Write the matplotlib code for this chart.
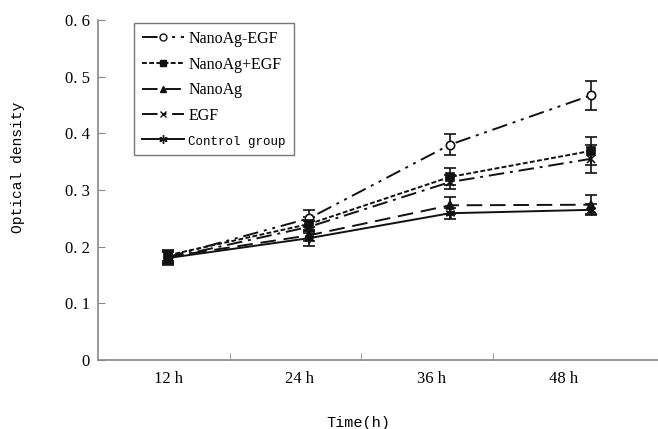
import matplotlib
matplotlib.use("Agg")
import matplotlib.pyplot as plt
from matplotlib.lines import Line2D
import numpy as np

categories = ["12 h", "24 h", "36 h", "48 h"]
series_names = ["NanoAg-EGF", "NanoAg+EGF", "NanoAg", "EGF", "Control group"]
nanoag_egf = [0.182, 0.250, 0.380, 0.467]
nanoag_plus_egf = [0.185, 0.240, 0.323, 0.369]
nanoag = [0.182, 0.220, 0.273, 0.274]
egf = [0.180, 0.235, 0.314, 0.355]
control = [0.180, 0.215, 0.259, 0.265]
err_nanoag_egf = [0.010, 0.015, 0.018, 0.025]
err_nanoag_plus_egf = [0.010, 0.012, 0.015, 0.025]
err_nanoag = [0.010, 0.010, 0.015, 0.017]
err_egf = [0.010, 0.010, 0.012, 0.025]
err_control = [0.012, 0.013, 0.010, 0.010]
yticks = [0, 0.1, 0.2, 0.3, 0.4, 0.5, 0.6]
ytick_labels = ["0", "0. 1", "0. 2", "0. 3", "0. 4", "0. 5", "0. 6"]

fig = plt.figure(figsize=(6.58, 4.29), dpi=100)
ax = fig.add_axes([98/658, 69/429, 560/658, 340/429])

x = np.arange(len(categories))
values = [nanoag_egf, nanoag_plus_egf, nanoag, egf, control]
errs = [err_nanoag_egf, err_nanoag_plus_egf, err_nanoag, err_egf, err_control]
styles = [
    dict(marker="o", mfc="white", ms=6, ls=(0, (8, 3, 1.5, 3, 1.5, 3))),
    dict(marker="s", mfc="#111", ms=6, ls=(0, (2.5, 1.2))),
    dict(marker="^", mfc="#111", ms=6, ls=(0, (8, 4))),
    dict(marker="x", mfc="#111", ms=6, ls=(0, (8, 3, 1.5, 3))),
    dict(marker=(6, 2, 0), mfc="#111", ms=7, ls="-"),
]
handles = []
for name, v, e, st in zip(series_names, values, errs, styles):
    ax.errorbar(x, v, yerr=e, color="#111", lw=1.4, capsize=4, capthick=1.2,
                elinewidth=1.2, marker=st["marker"], mfc=st["mfc"], mec="#111",
                mew=1.2, ms=st["ms"], ls=st["ls"])
    handles.append(Line2D([], [], color="#111", lw=1.4, ls=st["ls"],
                          marker=st["marker"], mfc=st["mfc"], mec="#111",
                          mew=1.0, ms=st["ms"] - 1, label=name))

# layout of category bands
left = -0.498
w = 0.935
ax.set_xlim(left, (657 - 168) / 140.67)
ax.set_ylim(0, 0.6)
ax.set_xticks([left + w * (i + 0.5) + 0.03 for i in range(len(categories))])
ax.set_xticklabels(categories, family="Liberation Serif", fontsize=12)
ax.set_xticks([left + w * (i + 1) for i in range(len(categories) - 1)], minor=True)
ax.tick_params(axis="x", which="major", length=0, pad=8)
ax.tick_params(axis="x", which="minor", direction="in", length=5, color="#888")
ax.set_yticks(yticks)
ax.set_yticklabels(ytick_labels, family="Liberation Serif", fontsize=12)
ax.tick_params(axis="y", direction="in", length=5, color="#888", pad=6)

for s in ["top", "right"]:
    ax.spines[s].set_visible(False)
for s in ["left", "bottom"]:
    ax.spines[s].set_color("#888")
    ax.spines[s].set_linewidth(1.2)

ax.set_xlabel("Time(h)", family="Liberation Mono", fontsize=11)
ax.xaxis.set_label_coords((358 - 98) / 560, (360 - 416) / 340)
ax.set_ylabel("Optical density", family="Liberation Mono", fontsize=10.5)
ax.yaxis.set_label_coords((25 - 98) / 560, (360 - 167) / 340)

leg = ax.legend(handles=handles, loc="upper left",
                bbox_to_anchor=((134 - 98) / 560, (360 - 23) / 340),
                prop={"family": "Liberation Serif", "size": 11.5}, frameon=True,
                fancybox=False, edgecolor="#555", handlelength=2.6,
                labelspacing=0.6, borderpad=0.5, handletextpad=0.3,
                borderaxespad=0)
leg.get_frame().set_linewidth(1.0)
for t in leg.get_texts():
    if t.get_text() == "Control group":
        t.set_fontfamily("Liberation Mono")
        t.set_fontsize(9)

fig.savefig("out.png", dpi=100)
